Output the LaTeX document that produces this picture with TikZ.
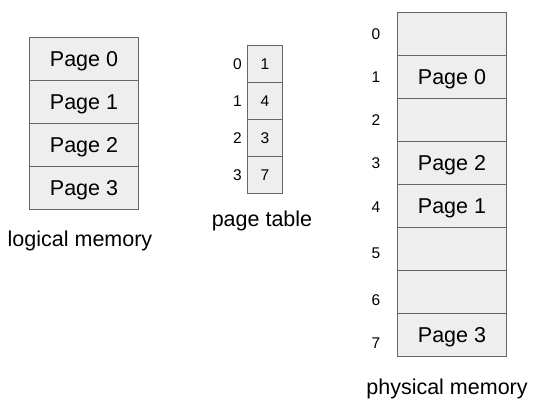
\documentclass[tikz,border=0pt]{standalone}
\usepackage{fontspec}
\setmainfont{Liberation Sans}
\definecolor{cellfill}{HTML}{EEEEEE}
\definecolor{cellline}{HTML}{666666}
\begin{document}
\begin{tikzpicture}[x=1pt,y=-1pt,
  cell/.style={draw=cellline,fill=cellfill,line width=1pt,inner sep=0pt,anchor=north west},
  bigtext/.style={font=\fontsize{21.5}{24}\selectfont},
  pagecell/.style={cell,bigtext,text height=15.5pt,text depth=0pt,minimum width=109pt,minimum height=43pt},
  smalltext/.style={font=\fontsize{15.5}{18}\selectfont},
  idx/.style={smalltext,inner sep=0pt}]
\useasboundingbox (0,0) rectangle (534,408);

% logical memory
\foreach \i/\y in {0/37,1/80,2/123,3/166}{
  \node[pagecell] (lm\i) at (29,\y) {Page \i};
}
\node[bigtext,inner sep=0pt] (lmlabel) at (80,241) {logical memory};

% page table
\foreach \i/\v/\y in {0/1/45,1/4/82,2/3/119,3/7/156}{
  \node[cell,smalltext,minimum width=35pt,minimum height=37pt] (pt\i) at (247,\y) {\v};
  \node[idx,anchor=east] (pti\i) at ([xshift=-5pt]pt\i.west) {\i};
}
\node[bigtext,inner sep=0pt] (ptlabel) at (262,221) {page table};

% physical memory frames
\foreach \i/\t/\y in {0//12,1/Page 0/55,2//98,3/Page 2/141,4/Page 1/184,5//227,6//270,7/Page 3/313}{
  \node[pagecell] (pm\i) at (397,\y) {\t};
}
\foreach \i/\y in {0/34,1/77,2/120,3/163,4/207,5/253,6/300,7/343}{
  \node[idx] (pmi\i) at (376,\y) {\i};
}
\node[bigtext,inner sep=0pt] (pmlabel) at (447,389) {physical memory};
\end{tikzpicture}
\end{document}
